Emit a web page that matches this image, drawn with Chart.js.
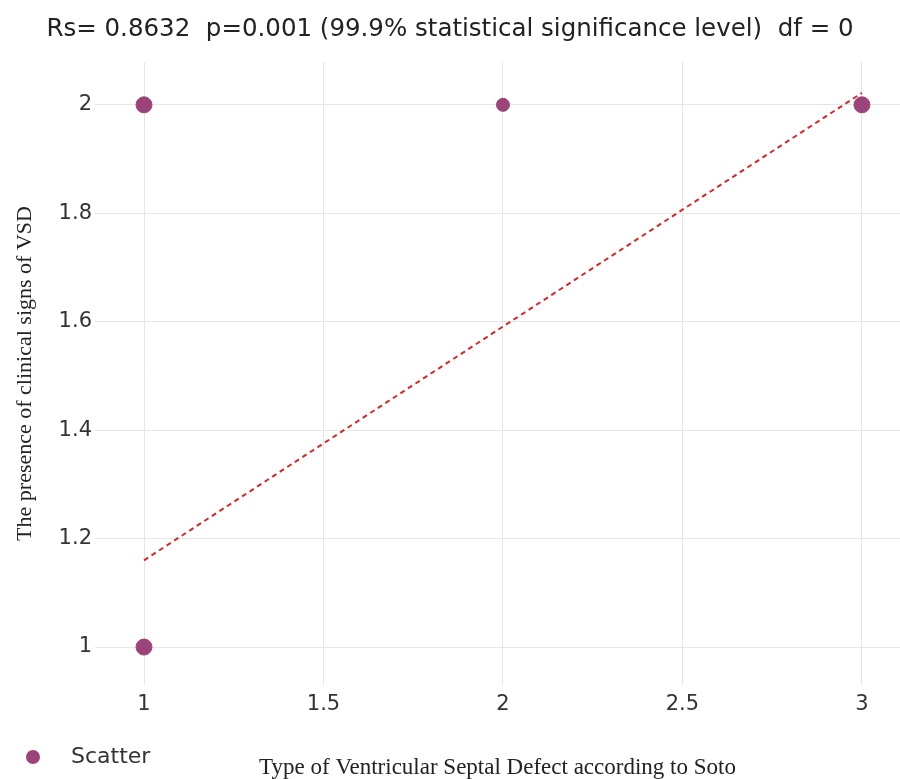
<!DOCTYPE html>
<html>
<head>
<meta charset="utf-8">
<script src="https://cdn.jsdelivr.net/npm/chart.js@4"></script>
<style>
  html,body{margin:0;padding:0;background:#fff;}
  #wrap{width:900px;height:779px;}
</style>
</head>
<body>
<div id="wrap"><canvas id="c" width="900" height="779"></canvas></div>
<script>
// data
const scatterX = [1, 1, 2, 3];
const scatterY = [2, 1, 2, 2];
const pointSizes = [8, 8, 6.5, 8];
const trendX = [1, 3];
const trendY = [1.16, 2.022];
const xTicks = [1, 1.5, 2, 2.5, 3];
const yTicks = [1, 1.2, 1.4, 1.6, 1.8, 2];

const markerColor = '#9c4479';
const sansFont = "'DejaVu Sans', sans-serif";
const serifFont = "'Liberation Serif', serif";

// legend at bottom-left, drawn by hand so it shares the row with the x title
const legendPlugin = {
  id:'bottomLegend',
  afterDraw(chart){
    const ctx = chart.ctx;
    ctx.save();
    ctx.fillStyle = markerColor;
    ctx.beginPath(); ctx.arc(33, 757, 7, 0, Math.PI*2); ctx.fill();
    ctx.fillStyle = '#333';
    ctx.font = '22px ' + sansFont;
    ctx.textBaseline = 'middle';
    ctx.fillText(chart.data.datasets[0].label, 71, 757);
    ctx.restore();
  }
};

new Chart(document.getElementById('c'), {
  type:'scatter',
  data:{
    datasets:[
      {label:'Scatter', data: scatterX.map((x,i)=>({x, y:scatterY[i]})),
       backgroundColor:markerColor, borderColor:markerColor, pointRadius:pointSizes, pointHoverRadius:pointSizes, order:1},
      {label:'Trend', type:'line', data: trendX.map((x,i)=>({x, y:trendY[i]})),
       borderColor:'#d62728', borderWidth:2, borderDash:[5,4], pointRadius:0, fill:false, order:0}
    ]
  },
  options:{
    responsive:false, animation:false,
    layout:{padding:0, autoPadding:false},
    plugins:{
      legend:{display:false},
      tooltip:{enabled:false},
      title:{display:true, text:'Rs= 0.8632  p=0.001 (99.9% statistical significance level)  df = 0',
        color:'#222', font:{family:sansFont, size:24.5, weight:'normal'}, padding:{top:15, bottom:17.6}}
    },
    scales:{
      x:{type:'linear', min:0.8635, max:3.106,
        afterBuildTicks: s=>{ s.ticks = xTicks.map(v=>({value:v})); },
        afterFit: s=>{ s.height = 94; s.paddingLeft = 0; s.paddingRight = 0; },
        grid:{color:'#e6e6e6', drawTicks:false}, border:{display:false},
        ticks:{padding:7, color:'#333', font:{family:sansFont, size:21}, callback:v=>String(v)},
        title:{display:true, text:'Type of Ventricular Septal Defect according to Soto', color:'#222',
          font:{family:serifFont, size:23, lineHeight:1}, padding:0}
      },
      y:{type:'linear', min:0.93, max:2.079,
        afterBuildTicks: s=>{ s.ticks = yTicks.map(v=>({value:v})); },
        afterFit: s=>{ s.width = 95; },
        grid:{color:'#e6e6e6', drawTicks:false}, border:{display:false},
        ticks:{padding:3, color:'#333', font:{family:sansFont, size:21}, callback:v=>String(v)},
        title:{display:true, text:'The presence of clinical signs of VSD', color:'#222',
          font:{family:serifFont, size:22}, padding:{top:12, bottom:0}}
      }
    }
  },
  plugins:[legendPlugin]
});
</script>
</body>
</html>
